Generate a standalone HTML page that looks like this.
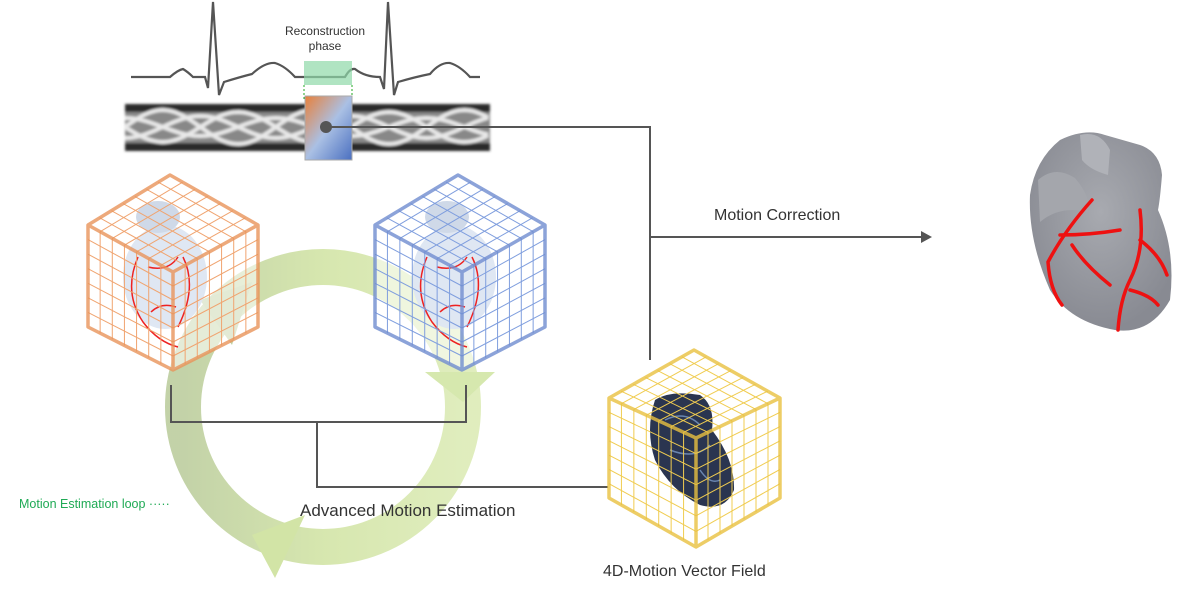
<!DOCTYPE html>
<html><head><meta charset="utf-8"><style>
body{margin:0;background:#fff;width:1193px;height:616px;overflow:hidden}
svg{display:block}
text{font-family:"Liberation Sans",sans-serif}
</style></head><body>
<svg id="s" width="1193" height="616" viewBox="0 0 1193 616" xmlns="http://www.w3.org/2000/svg">
<defs>
<linearGradient id="gb" x1="0" y1="0" x2="1" y2="1">
<stop offset="0" stop-color="#e8803a"/><stop offset="0.5" stop-color="#aac0e4"/><stop offset="1" stop-color="#4a6fc0"/></linearGradient>
<linearGradient id="ring" x1="0" y1="0" x2="1" y2="0">
<stop offset="0" stop-color="#bccd9e"/><stop offset="0.5" stop-color="#d2e4a6"/><stop offset="1" stop-color="#dcebb6"/></linearGradient>
<radialGradient id="hg" cx="0.5" cy="0.4" r="0.6"><stop offset="0" stop-color="#a8aab0"/><stop offset="1" stop-color="#888a92"/></radialGradient>
<filter id="bl"><feGaussianBlur stdDeviation="1.2"/></filter>
</defs>

<circle cx="323" cy="407" r="140" fill="none" stroke="url(#ring)" stroke-width="36" opacity="0.9"/>
<polygon points="200,300 252,282 232,345" fill="#c0d0a2"/>
<polygon points="425,372 495,372 463,402" fill="#d6e8ae"/>
<polygon points="252,535 305,515 275,578" fill="#d2e4a6"/>

<path d="M131,77 L170,77 Q178,70 183,69 Q188,72 193,77 L205,77 L208,88 L213,2 L219,95 L224,82 Q240,77 252,74 Q265,62 275,63 Q285,66 295,77 L345,77 Q350,68 355,69 Q365,77 380,77 L384,89 L388,2 L394,95 L398,82 Q415,77 430,74 Q440,62 450,63 Q460,66 470,77 L480,77" fill="none" stroke="#555" stroke-width="2.2"/>
<rect x="304" y="61" width="48" height="24" fill="#8fd8a8" opacity="0.7"/>
<line x1="304" y1="85" x2="304" y2="100" stroke="#2a2" stroke-width="1" stroke-dasharray="2,2"/>
<line x1="352" y1="85" x2="352" y2="100" stroke="#2a2" stroke-width="1" stroke-dasharray="2,2"/>
<text x="325" y="35" font-size="12" text-anchor="middle" fill="#333">Reconstruction</text>
<text x="325" y="50" font-size="12" text-anchor="middle" fill="#333">phase</text>

<g filter="url(#bl)">
<rect x="125" y="104" width="365" height="47" fill="#2a2a2a"/>
<rect x="125" y="112" width="365" height="31" fill="#888"/>
<path id="sw" d="" fill="none" stroke="#e8e8e8" stroke-width="4"/>
</g>
<rect x="305" y="96" width="47" height="64" fill="url(#gb)" stroke="#aaa"/>
<circle cx="326" cy="127" r="6" fill="#555"/>

<g stroke="#555" stroke-width="2" fill="none">
<path d="M326,127 H650 V360"/>
<path d="M650,237 H922"/>
<path d="M171,385 V422 H466 V385"/>
<path d="M317,422 V487 H608"/>
</g>
<polygon points="921,231 932,237 921,243" fill="#555"/>

<g id="cubes"></g>

<path d="M1060,140 Q1085,128 1105,135 L1140,145 Q1160,152 1162,175 Q1160,200 1158,210 Q1176,250 1170,300 Q1150,335 1115,330 Q1070,322 1050,290 Q1028,240 1030,195 Q1035,160 1060,140Z" fill="url(#hg)"/>
<path d="M1080,135 Q1100,130 1110,150 L1108,175 Q1090,170 1082,160Z" fill="#b0b2b8"/>
<path d="M1038,180 Q1055,165 1075,178 Q1092,198 1088,212 Q1060,205 1040,222Z" fill="#a4a6ac"/>
<g stroke="#ee1111" stroke-width="3.5" fill="none" stroke-linecap="round">
<path d="M1092,200 Q1065,230 1048,262 Q1050,290 1062,305"/>
<path d="M1140,210 Q1145,250 1130,280 Q1120,300 1118,330"/>
<path d="M1060,235 Q1090,235 1120,230"/>
<path d="M1072,245 Q1085,265 1110,285"/>
<path d="M1140,240 Q1160,255 1167,275"/>
<path d="M1130,290 Q1150,295 1158,305"/>
</g>

<text x="714" y="220" font-size="16" fill="#333">Motion Correction</text>
<text x="300" y="516" font-size="17" fill="#333">Advanced Motion Estimation</text>
<text x="603" y="576" font-size="16" fill="#333">4D-Motion Vector Field</text>
<text x="19" y="508" font-size="12.5" fill="#1faa55">Motion Estimation loop ·····</text>
</svg>
<script>
var NS="http://www.w3.org/2000/svg";
var d="";
for(var k=0;k<4;k++){var ph=k*Math.PI/2,amp=[15,11,17,9][k];d+="M125,"+(127+amp*Math.sin(ph)).toFixed(1);
for(var x=125;x<=490;x+=3){d+=" L"+x+","+(127+amp*Math.sin((x-125)/24+ph)).toFixed(1);}}
document.getElementById("sw").setAttribute("d",d);
var g=document.getElementById("cubes");
function el(n,a){var e=document.createElementNS(NS,n);for(var k in a)e.setAttribute(k,a[k]);g.appendChild(e);return e;}
function lerp(a,b,t){return [a[0]+(b[0]-a[0])*t,a[1]+(b[1]-a[1])*t];}
function face(p,col,n,w){
 for(var i=1;i<n;i++){var t=i/n;var a=lerp(p[0],p[1],t),b=lerp(p[3],p[2],t);
 el("line",{x1:a[0],y1:a[1],x2:b[0],y2:b[1],stroke:col,"stroke-width":w});
 a=lerp(p[0],p[3],t);b=lerp(p[1],p[2],t);
 el("line",{x1:a[0],y1:a[1],x2:b[0],y2:b[1],stroke:col,"stroke-width":w});}
}
function cube(T,L,R,C,B,LL,LR,col,heart,dk){
 el("path",{d:"M"+T+" L"+R+" L"+LR+" L"+B+" L"+LL+" L"+L+"Z",fill:"#fff",opacity:0.55});
 if(heart===1){el("ellipse",{cx:C[0]-8,cy:C[1]+5,rx:42,ry:52,fill:"#dde6f2",opacity:0.95});
 el("ellipse",{cx:C[0]-15,cy:C[1]-55,rx:22,ry:16,fill:"#cfd9e8"});
 el("path",{d:"M"+(C[0]-35)+","+(C[1]-15)+" q-15,35 5,65 q15,20 35,25 M"+(C[0]+10)+","+(C[1]-15)+" q15,30 -5,70 M"+(C[0]-25)+","+(C[1]-5)+" q20,5 30,-10 M"+(C[0]-22)+","+(C[1]+40)+" q10,-10 25,-5",stroke:"#e22",fill:"none","stroke-width":1.5});}
 if(heart===2){el("path",{d:"M655,400 Q670,390 700,395 Q715,405 712,430 Q735,460 734,490 Q725,512 700,505 Q670,490 655,460 Q645,430 655,400Z",fill:"#2a3550"});
 el("path",{d:"M665,420 q20,-10 35,5 M670,450 q25,10 40,-5 M700,470 q10,15 20,10",stroke:"#6a86b0",fill:"none","stroke-width":1.5});}
 face([T,R,C,L],col,7,1);face([L,C,B,LL],col,7,1);face([C,R,LR,B],col,7,1);
 el("path",{d:"M"+T+" L"+R+" L"+LR+" L"+B+" L"+LL+" L"+L+"Z M"+L+" L"+C+" L"+R+" M"+C+" L"+B,fill:"none",stroke:dk,"stroke-width":3.5,opacity:0.8,"stroke-linejoin":"round"});
}
cube([170,175],[88,225],[258,225],[173,272],[173,370],[88,327],[258,327],"#f0a470",1,"#e8935a");
cube([458,175],[375,225],[545,225],[462,272],[462,370],[375,327],[545,327],"#7f9ede",1,"#6f8cd0");
cube([694,350],[609,398],[780,398],[696,438],[696,547],[609,498],[780,498],"#f0cc50",2,"#e8c040");
</script>
</body></html>
